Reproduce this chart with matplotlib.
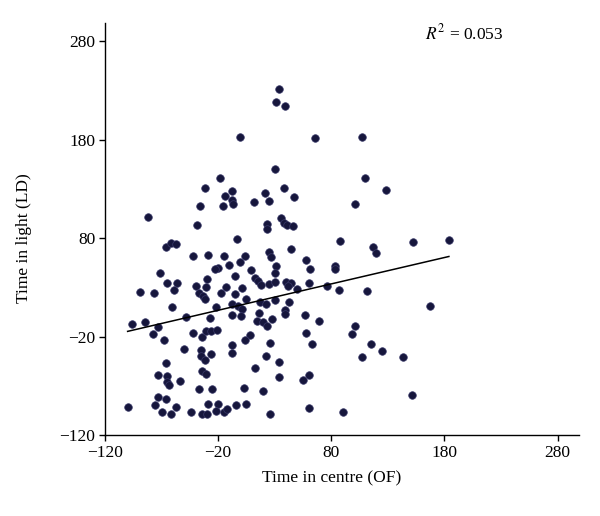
import numpy as np
import matplotlib
matplotlib.use('Agg')
import matplotlib.pyplot as plt

plt.rcParams['font.family'] = ['Liberation Serif', 'DejaVu Serif']
plt.rcParams['mathtext.fontset'] = 'stix'

# time in centre (OF) vs time in light (LD)
time_centre = [34, 31, 39, -1, 30.5, -18, -32, -7.5, -14, -8, 38, 21, 47, 25, 12, -16, -7, -36,
               -82, -39, 36, 38, 41, 46, 23, 23, -3, -66, -62, -57, 44, -42, -29, -15, 4, 25, 27, -1,
               66, 107, 110, 128, 101, 88, 117, 119.5, 152, 184,
               -10, -20, -23, 31, 30, 9, -71, -5, -30, 12.5, 15, -65.5, -56, -40, -31, -13, 1, 18, 25,
               30, 40, 44, -59, -89, -77, -37, -17.5, -33, -32, -5, 5, 30, 17, 22, 43, 50, -7.5, -2, 1,
               -22, -60.5, 16, 39, 39, -8, 0, -48, -27, -96, -85, -73, 14, 20, 28, 23, -78, -68, -42,
               -34, -31, -26, -21, 8, 4, 26, -7.5, -50.5, -35, -35, -32, -26, -8, 22, 34, -66, 12.5,
               -34, -31, -73, -65, -65.5, -63, -54, 34, -37, -25, 2.6, 20, -73, -66, -76, -57, -100,
               -70, -62, -44, -34, -30, -29, -20, -22, -15, -12, -4.5, 5, 26,
               58, 61, 83, 83.5, 42, 60, 76, 87, 111.5, 57, 69, 167, 58, 63, 101, 98, 115, 124.5, 107,
               143, 60, 55, 151.5, 60, 90]
time_light = [232, 218, 214, 183, 150, 141, 131, 128, 123, 119, 131, 126, 122, 118, 117, 113, 115, 113,
              102, 93, 101, 95, 93, 92, 94, 89, 79, 71, 75, 74, 69, 62, 63, 62, 62, 66, 61, 56,
              182, 183, 141, 129, 115, 77, 71.5, 65, 76, 78,
              53, 50, 48.5, 52, 45, 48, 45, 42, 39, 40, 37, 34, 34, 31.5, 30.5, 30, 29, 32, 33,
              35, 35, 34, 27, 25, 24, 24, 24, 21, 18, 23, 18, 17, 15, 13, 15, 28.5, 13, 11, 8,
              10.5, 10, 4, 7, 3, 2, 1, 0, -1, -7, -5, -10, -4, -5, -2, -9, -17, -23, -16,
              -20, -14.5, -14.5, -13, -18, -23, -27, -29, -33, -34, -40, -44, -38, -37, -40, -45.5, -47, -52,
              -55, -58, -59, -60, -66, -69, -65, -61, -73.5, -73, -72, -75, -81, -83, -90, -92, -92,
              -97, -99, -97, -99, -99, -88.5, -88.5, -96, -97, -94, -90, -88.5, -99,
              58, 48.5, 52, 48.5, 31, 34, 31.5, 27.5, 26, 2, -4, 11, -16, -28, -9.5, -17, -28, -35, -41,
              -41, -59, -64, -79, -93, -97]

# fitted line shown in the reference
fit_slope = 0.268
fit_intercept = 12.1
r_squared = 0.053

ticks = [-120, -20, 80, 180, 280]

fig = plt.figure(figsize=(6.0, 5.16), dpi=100)
ax = fig.add_axes([0.175, 0.157, 0.79, 0.799])

ax.scatter(time_centre, time_light, s=30, color='#16163c', edgecolors='#3a3a6a', linewidths=0.5, zorder=3)
xf = np.array([min(time_centre), max(time_centre)])
ax.plot(xf, fit_intercept + fit_slope * xf, color='black', lw=1.1, zorder=4)

ax.set_xlim(-120, 299)
ax.set_ylim(-120, 299)
ax.set_xticks(ticks)
ax.set_yticks(ticks)
ax.tick_params(direction='out', length=4, width=1, labelsize=12.5, pad=3)
for s in ['top', 'right']:
    ax.spines[s].set_visible(False)
for s in ['left', 'bottom']:
    ax.spines[s].set_linewidth(1)

ax.set_xlabel('Time in centre (OF)', fontsize=12.5, labelpad=6)
ax.set_ylabel('Time in light (LD)', fontsize=12.5, labelpad=4)
ax.xaxis.set_label_coords((80 + 120) / 419, -0.085)
ax.yaxis.set_label_coords(-0.155, (80 + 120) / 419)

ax.text(163, 282, r'$R^2$ = ' + f'{r_squared:.3f}', fontsize=12.5, ha='left', va='baseline')

fig.savefig('out.png', dpi=100)
